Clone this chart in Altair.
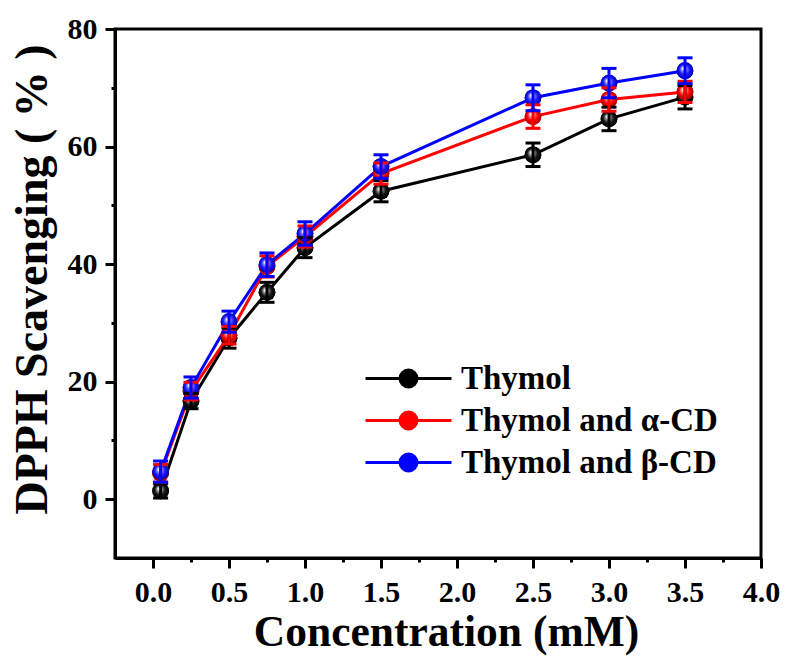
import altair as alt
import pandas as pd

# Concentrations (mM) and DPPH scavenging (%) with standard deviations
conc = [0.05, 0.25, 0.5, 0.75, 1.0, 1.5, 2.5, 3.0, 3.5]
series_names = ["Thymol", "Thymol and α-CD", "Thymol and β-CD"]
thymol = [1.4, 16.7, 27.4, 35.2, 42.8, 52.4, 58.6, 64.7, 68.4]
thymol_err = [1.2, 1.3, 1.7, 1.7, 1.7, 1.8, 2.0, 2.0, 2.0]
alpha_cd = [4.4, 18.4, 27.9, 39.6, 44.7, 55.4, 65.1, 68.0, 69.3]
alpha_err = [1.5, 1.5, 1.5, 1.8, 1.8, 1.8, 2.0, 2.0, 1.8]
beta_cd = [4.7, 19.0, 30.2, 39.9, 45.2, 56.6, 68.3, 70.8, 72.9]
beta_err = [1.8, 1.8, 1.8, 2.0, 2.0, 2.0, 2.2, 2.5, 2.2]
colors = ["#000000", "#ff0000", "#0000ff"]
x_ticks = [i * 0.25 for i in range(17)]
y_ticks = [i * 10 for i in range(9)]

rows = []
for name, vals, errs in zip(series_names, [thymol, alpha_cd, beta_cd],
                            [thymol_err, alpha_err, beta_err]):
    for c, v, e in zip(conc, vals, errs):
        rows.append({"conc": c, "value": v, "lo": v - e, "hi": v + e, "series": name})
df = pd.DataFrame(rows)

FONT = "Liberation Serif"

x_axis = alt.Axis(
    values=x_ticks,
    labelExpr="datum.value % 0.5 === 0 ? format(datum.value, '.1f') : ''",
    tickSize={"condition": {"test": "datum.value % 0.5 !== 0", "value": 4}, "value": 10},
    tickWidth=3, tickColor="black", domainWidth=3, domainColor="black",
    labelFont=FONT, labelFontSize=30, labelFontWeight="bold", labelColor="black",
    labelPadding=9, labelOverlap=False, labelFlush=False, grid=False,
    title="Concentration (mM)", titleFont=FONT, titleFontSize=43.5,
    titleFontWeight="bold", titleColor="black", titlePadding=4, titleX=331,
)
y_axis = alt.Axis(
    values=y_ticks,
    labelExpr="datum.value % 20 === 0 ? format(datum.value, 'd') : ''",
    tickSize={"condition": {"test": "datum.value % 20 !== 0", "value": 4}, "value": 10},
    tickWidth=3, tickColor="black", domainWidth=3, domainColor="black",
    labelFont=FONT, labelFontSize=30, labelFontWeight="bold", labelColor="black",
    labelPadding=8, labelOverlap=False, labelFlush=False, grid=False,
    title="DPPH Scavenging ( % )", titleFont=FONT, titleFontSize=46,
    titleFontWeight="bold", titleColor="black", titlePadding=11, titleY=250,
)

x_enc = alt.X("conc:Q", scale=alt.Scale(domain=[-0.25, 4.0], nice=False, zero=False), axis=x_axis)
y_scale = alt.Scale(domain=[-10, 80], nice=False, zero=False)
series_scale = alt.Scale(domain=series_names, range=colors)

legend = alt.Legend(
    title=None, orient="none", legendX=277, legendY=333, padding=0,
    labelFont=FONT, labelFontSize=33, labelFontWeight="bold", labelColor="black",
    labelLimit=500,
    symbolType="M-4.3,0L4.3,0M-0.85,0A0.85,0.85,0,1,1,0.85,0A0.85,0.85,0,1,1,-0.85,0Z",
    symbolSize=400, symbolStrokeWidth=3, symbolOpacity=1, labelOffset=36, rowPadding=8,
)

lines = alt.Chart(df).mark_line(strokeWidth=3).encode(
    x=x_enc,
    y=alt.Y("value:Q", scale=y_scale, axis=y_axis),
    stroke=alt.Stroke("series:N", scale=series_scale, legend=legend),
)

# flat-coloured markers underneath; they also give the legend its filled symbols
flat_points = alt.Chart(df).mark_point(filled=True, size=280, strokeWidth=0, opacity=1).encode(
    x=x_enc,
    y=alt.Y("value:Q", scale=y_scale, axis=y_axis),
    fill=alt.Fill("series:N", scale=series_scale, legend=legend),
    stroke=alt.Stroke("series:N", scale=series_scale, legend=legend),
)


def sphere(dark, mid, light):
    return alt.RadialGradient(
        gradient="radial", x1=0.4, y1=0.34, r1=0.0, x2=0.5, y2=0.5, r2=0.5,
        stops=[
            alt.GradientStop(offset=0.0, color="#ffffff"),
            alt.GradientStop(offset=0.12, color="#ffffff"),
            alt.GradientStop(offset=0.32, color=light),
            alt.GradientStop(offset=0.62, color=mid),
            alt.GradientStop(offset=1.0, color=dark),
        ],
    )


fills = [sphere("#000000", "#151515", "#8c8c8c"),
         sphere("#a80000", "#ff0000", "#ff8080"),
         sphere("#0000a8", "#1a1aff", "#8080ff")]

points = []
bars = []
for name, col, fill in zip(series_names, colors, fills):
    sub = df[df["series"] == name]
    points.append(
        alt.Chart(sub).mark_point(filled=True, size=280, fill=fill, strokeWidth=0, opacity=1).encode(
            x=x_enc, y=alt.Y("value:Q", scale=y_scale, axis=y_axis)
        )
    )
    bars.append(
        alt.Chart(sub).mark_rule(color=col, strokeWidth=3).encode(
            x=x_enc, y=alt.Y("lo:Q", scale=y_scale, axis=y_axis), y2="hi:Q"
        )
    )
    for end in ["lo", "hi"]:
        bars.append(
            alt.Chart(sub).mark_tick(color=col, orient="horizontal", size=15, thickness=3, opacity=1).encode(
                x=x_enc, y=alt.Y(f"{end}:Q", scale=y_scale, axis=y_axis)
            )
        )

chart = alt.layer(lines, flat_points, *points, *bars).properties(
    width=646, height=529,
    autosize=alt.AutoSizeParams(type="none"),
    padding={"left": 115, "top": 29, "right": 24, "bottom": 98},
    background="white",
).configure_view(stroke="black", strokeWidth=3)

chart.save("out.html", embed_options={"renderer": "svg", "actions": False})
